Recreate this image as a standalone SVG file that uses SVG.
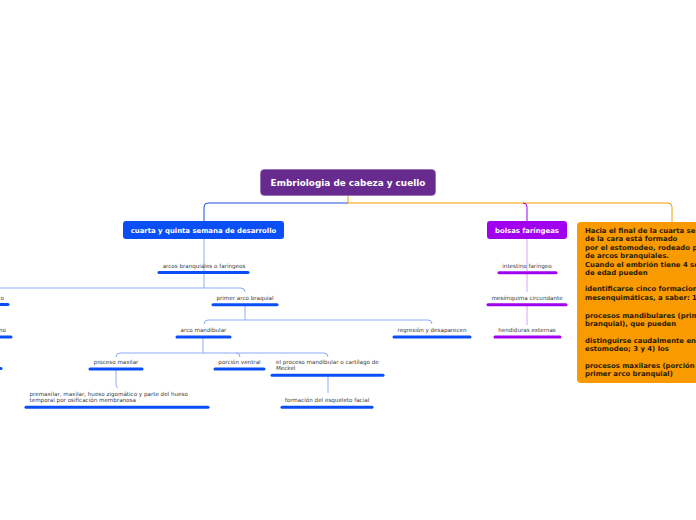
<svg xmlns="http://www.w3.org/2000/svg" width="696" height="520" viewBox="0 0 696 520">
<style>
.t{font-family:"DejaVu Sans",Verdana,sans-serif;font-size:5.6px;fill:#3a3a3a}
.tb{font-family:"DejaVu Sans",Verdana,sans-serif;font-weight:bold;fill:#fff}
.to{font-family:"DejaVu Sans",Verdana,sans-serif;font-weight:bold;font-size:6.9px;fill:#2a1a00}
.ub{stroke:#0a4ff5;stroke-width:3;stroke-linecap:round;fill:none}
.up{stroke:#a000ee;stroke-width:3;stroke-linecap:round;fill:none}
.cb{stroke:#8eabf9;stroke-width:1;fill:none}
.cp{stroke:#d6a6f7;stroke-width:1;fill:none}
</style>
<rect width="696" height="520" fill="#fff"/>
<g id="connectors">
<path d="M348 195 V203" stroke="#f59a00" stroke-width="1" fill="none"/>
<path d="M348 203 H208 Q204 203 204 207 V221" stroke="#1f4fe0" stroke-width="1" fill="none"/>
<path d="M348 203 H668 Q672 203 672 207 V222" stroke="#f59a00" stroke-width="1" fill="none"/>
<path d="M523 203 Q527 203 527 207 V221" stroke="#a000ee" stroke-width="1" fill="none"/>
<path class="cb" d="M204 239 V271"/>
<path class="cb" d="M204 274 V288"/>
<path class="cb" d="M0 288 H241 Q245 288 245 292"/>
<path class="cb" d="M245 306 V320"/>
<path class="cb" d="M208 320 Q204 320 204 324 M208 320 H428 Q432 320 432 324"/>
<path class="cb" d="M203 338 V353"/>
<path class="cb" d="M120 353 Q116 353 116 357 M120 353 H324 Q328 353 328 357 M236 353 Q240 353 240 357"/>
<path class="cb" d="M116 370 V384 Q116 388 118 388"/>
<path class="cb" d="M328 376 V393"/>
<path class="cp" d="M527 239 V271"/>
<path class="cp" d="M527 274 V292"/>
<path class="cp" d="M527 306 V325"/>
</g>
<g id="root">
<rect x="260.5" y="169.5" width="175" height="26" rx="4" fill="#672a8e" stroke="#8a5ab0" stroke-width="0.6"/>
<text class="tb" x="348" y="186" font-size="8.9" text-anchor="middle">Embriologia de cabeza y cuello</text>
</g>
<g id="n-cuarta">
<rect x="123" y="221" width="161" height="18" rx="3" fill="#0a4ff5"/>
<text class="tb" x="203.5" y="232.8" font-size="6.9" text-anchor="middle">cuarta y quinta semana de desarrollo</text>
</g>
<g id="n-bolsas">
<rect x="487" y="221" width="80" height="18" rx="3" fill="#a000ee"/>
<text class="tb" x="527" y="232.8" font-size="6.9" text-anchor="middle">bolsas faríngeas</text>
</g>
<g id="n-hacia">
<rect x="577" y="222" width="130" height="161" rx="4" fill="#f99a00"/>
<text class="to" x="585" y="233.2">Hacia el final de la cuarta se</text>
<text class="to" x="585" y="241.2">de la cara está formado</text>
<text class="to" x="585" y="250.2">por el estomodeo, rodeado p</text>
<text class="to" x="585" y="258.2">de arcos branquiales.</text>
<text class="to" x="585" y="267.2">Cuando el embrión tiene 4 se</text>
<text class="to" x="585" y="275.2">de edad pueden</text>
<text class="to" x="585" y="291.2">identificarse cinco formacion</text>
<text class="to" x="585" y="300.2">mesenquimáticas, a saber: 1</text>
<text class="to" x="585" y="318.2">procesos mandibulares (prim</text>
<text class="to" x="585" y="326.2">branquial), que pueden</text>
<text class="to" x="585" y="343.2">distinguirse caudalmente en</text>
<text class="to" x="585" y="351.2">estomodeo; 3 y 4) los</text>
<text class="to" x="585" y="368.2">procesos maxilares (porción</text>
<text class="to" x="585" y="376.2">primer arco branquial)</text>
</g>
<g id="n-arcos">
<text class="t" x="204" y="267.7" text-anchor="middle">arcos branquiales o faríngeos</text>
<path class="ub" d="M159 272.5 H248"/>
</g>
<g id="n-left1">
<text class="t" x="4" y="299.7" text-anchor="end">o</text>
<path class="ub" d="M-2 304.5 H8"/>
</g>
<g id="n-left2">
<text class="t" x="6" y="331.7" text-anchor="end">no</text>
<path class="ub" d="M-2 337 H11"/>
</g>
<g id="n-left3">
<path class="ub" d="M-2 368.5 H1"/>
</g>
<g id="n-primer">
<text class="t" x="245" y="299.7" text-anchor="middle">primer arco braquial</text>
<path class="ub" d="M213 304.8 H277"/>
</g>
<g id="n-arcomand">
<text class="t" x="203.5" y="331.7" text-anchor="middle">arco mandibular</text>
<path class="ub" d="M177 337 H230"/>
</g>
<g id="n-regresion">
<text class="t" x="432" y="331.7" text-anchor="middle">regresión y desaparecen</text>
<path class="ub" d="M394 337 H470"/>
</g>
<g id="n-procmax">
<text class="t" x="116" y="363.9" text-anchor="middle">proceso maxilar</text>
<path class="ub" d="M90 369 H142"/>
</g>
<g id="n-porcion">
<text class="t" x="239.5" y="363.9" text-anchor="middle">porción ventral</text>
<path class="ub" d="M215 369 H264"/>
</g>
<g id="n-meckel">
<text class="t" x="276" y="363.9">el proceso mandibular o cartílago de</text>
<text class="t" x="276" y="370.1">Meckel</text>
<path class="ub" d="M272 375.3 H383"/>
</g>
<g id="n-premax">
<text class="t" x="29.5" y="395.9">premaxilar, maxilar, hueso zigomático y parte del hueso</text>
<text class="t" x="29.5" y="402.1">temporal por osificación membranosa</text>
<path class="ub" d="M26 407.3 H208"/>
</g>
<g id="n-formacion">
<text class="t" x="327" y="401.7" text-anchor="middle">formación del esqueleto facial</text>
<path class="ub" d="M282 407.3 H372"/>
</g>
<g id="n-intestino">
<text class="t" x="527" y="267.7" text-anchor="middle">intestino faríngeo</text>
<path class="up" d="M499 272.8 H556"/>
</g>
<g id="n-mesenquima">
<text class="t" x="527" y="299.7" text-anchor="middle">mesénquima circundante</text>
<path class="up" d="M488 304.8 H566"/>
</g>
<g id="n-hendiduras">
<text class="t" x="527" y="331.7" text-anchor="middle">hendiduras externas</text>
<path class="up" d="M495 337 H560"/>
</g>
</svg>
